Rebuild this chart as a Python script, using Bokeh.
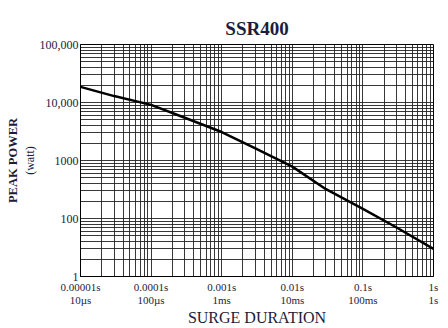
from bokeh.plotting import figure
from bokeh.models import FixedTicker, LinearAxis, ColumnDataSource
from bokeh.embed import file_html
from bokeh.resources import INLINE

# Surge duration (s) and peak pulse power (W)
duration_s = [0.00001, 0.00003, 0.0001, 0.0003, 0.001, 0.003, 0.01, 0.03, 0.1, 0.3, 1.0]
peak_power_w = [18600, 12900, 9100, 5450, 3100, 1620, 785, 320, 147, 70, 30]

# Axis decades and labels
x_decades = [0.00001, 0.0001, 0.001, 0.01, 0.1, 1.0]
x_tick_labels = ["0.00001s\n10µs", "0.0001s\n100µs", "0.001s\n1ms", "0.01s\n10ms", "0.1s\n100ms", "1s\n1s"]
y_decades = [10, 100, 1000, 10000, 100000]
y_tick_labels = ["1", "100", "1000", "10,000", "100,000"]
minor_multipliers = [2, 3, 4, 5, 6, 7, 8, 9]

TXT = "#1c1c3c"
SERIF = "Liberation Serif"

p = figure(width=448, height=328, x_axis_type="log", y_axis_type="log",
           x_range=(x_decades[0], x_decades[-1]), y_range=(y_decades[0], y_decades[-1]),
           output_backend="svg", toolbar_location=None,
           min_border_left=80, min_border_right=15, min_border_top=44, min_border_bottom=51)

x_minor = [d * m for d in x_decades[:-1] for m in minor_multipliers]
y_minor = [d * m for d in y_decades[:-1] for m in minor_multipliers]

p.xaxis.ticker = FixedTicker(ticks=x_decades, minor_ticks=x_minor)
p.yaxis.ticker = FixedTicker(ticks=y_decades, minor_ticks=y_minor)
p.xaxis.major_label_overrides = {v: s for v, s in zip(x_decades, x_tick_labels)}
p.yaxis.major_label_overrides = {v: s for v, s in zip(y_decades, y_tick_labels)}

for ax in (p.xaxis, p.yaxis):
    ax.major_tick_line_color = None
    ax.minor_tick_line_color = None
    ax.major_tick_out = 0
    ax.minor_tick_out = 0
    ax.axis_line_color = "black"
    ax.major_label_text_font = SERIF
    ax.major_label_text_color = TXT
    ax.axis_label_text_font = SERIF
    ax.axis_label_text_color = TXT
    ax.axis_label_text_font_style = "normal"
p.xaxis.major_label_text_font_size = "11px"
p.xaxis.major_label_text_line_height = 1.1
p.yaxis.major_label_text_font_size = "12px"
p.xaxis.major_label_standoff = 4
p.yaxis.major_label_standoff = 2

p.xaxis.axis_label = "SURGE DURATION"
p.xaxis.axis_label_text_font_size = "16px"
p.xaxis.axis_label_text_line_height = 1.0
p.xaxis.axis_label_standoff = 0

p.yaxis.axis_label = "(watt)"
p.yaxis.axis_label_text_font_size = "12px"
p.yaxis.axis_label_standoff = 0

outer = LinearAxis(ticker=FixedTicker(ticks=[]), axis_label="PEAK POWER",
                   axis_line_color=None, major_tick_line_color=None, minor_tick_line_color=None,
                   major_tick_out=0, minor_tick_out=0, major_label_standoff=0,
                   axis_label_standoff=0, axis_label_text_font=SERIF,
                   axis_label_text_font_size="12.5px", axis_label_text_font_style="bold",
                   axis_label_text_color=TXT)
p.add_layout(outer, "left")

for g in (p.xgrid, p.ygrid):
    g.grid_line_color = "#222222"
    g.grid_line_alpha = 0.9
    g.grid_line_width = 1
    g.minor_grid_line_color = "#222222"
    g.minor_grid_line_alpha = 0.9
    g.minor_grid_line_width = 1

p.outline_line_color = "black"
p.outline_line_width = 1

p.title.text = "SSR400"
p.title.align = "center"
p.title.offset = -6
p.title.standoff = 12
p.title.text_font = SERIF
p.title.text_font_size = "19px"
p.title.text_font_style = "bold"
p.title.text_color = TXT

src = ColumnDataSource(dict(t=duration_s, pw=peak_power_w))
p.line("t", "pw", source=src, line_color="black", line_width=2.5)

open("out.html", "w").write(file_html(p, INLINE))
